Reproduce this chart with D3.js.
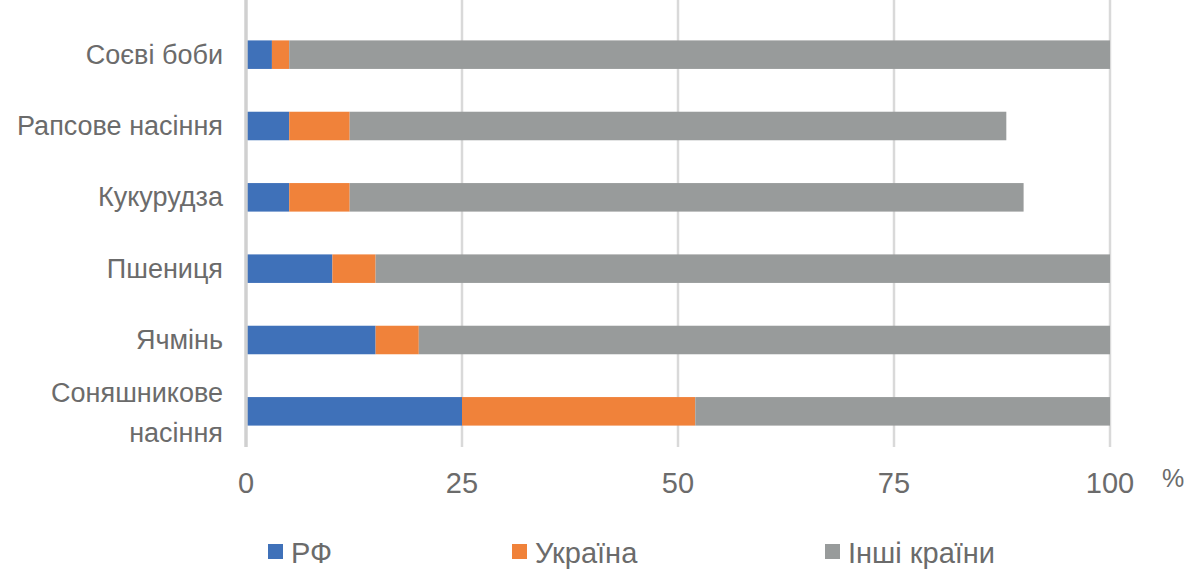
<!DOCTYPE html>
<html>
<head>
  <meta charset="UTF-8">
  <title>Експорт</title>
  <script src="https://cdn.jsdelivr.net/npm/d3@7"></script>
  <style>
    body { margin: 0; background: #fff; }
    text { fill: #6b6b6b; font-family: "Liberation Sans", Arial, sans-serif; }
  </style>
</head>
<body>
<div id="chart"></div>
<script>
// categories, bottom to top as in the picture
var categories = ["Соняшникове насіння", "Ячмінь", "Пшениця", "Кукурудза", "Рапсове насіння", "Соєві боби"];
var seriesNames = ["РФ", "Україна", "Інші країни"];
var rf      = [25, 15, 10, 5, 5, 3];
var ukraine = [27, 5, 5, 7, 7, 2];
var others  = [48, 80, 85, 78, 76, 95];
var tickValues = [0, 25, 50, 75, 100];
var colors = ["#3f71b9", "#f0823a", "#989b9b"];

var W = 1189, H = 569;
var svg = d3.select("#chart").append("svg").attr("width", W).attr("height", H);

var x = d3.scaleLinear().domain([0, 100]).range([246, 1110]);
var y = d3.scaleBand().domain(categories.slice().reverse()).range([19, 447]).paddingInner(0.6).paddingOuter(0.3);

var rows = categories.map(function(c, i) {
  return {cat: c, "РФ": rf[i], "Україна": ukraine[i], "Інші країни": others[i]};
});
var stack = d3.stack().keys(seriesNames)(rows);

// gridlines
svg.append("g").selectAll("line").data(tickValues.slice(1)).join("line")
  .attr("x1", function(d) { return x(d); }).attr("x2", function(d) { return x(d); })
  .attr("y1", 0).attr("y2", 447)
  .attr("stroke", "#d9d9d9").attr("stroke-width", 2.5);

// bars
svg.append("g").selectAll("g").data(stack).join("g")
  .attr("fill", function(d, i) { return colors[i]; })
  .selectAll("rect").data(function(d) { return d; }).join("rect")
  .attr("x", function(d) { return x(d[0]); })
  .attr("width", function(d) { return x(d[1]) - x(d[0]); })
  .attr("y", function(d) { return y(d.data.cat); })
  .attr("height", y.bandwidth());

// vertical axis line
svg.append("line").attr("x1", x(0)).attr("x2", x(0)).attr("y1", 0).attr("y2", 447)
  .attr("stroke", "#d0d0d0").attr("stroke-width", 3.5);

// x tick labels
svg.append("g").selectAll("text").data(tickValues).join("text")
  .attr("x", function(d) { return x(d); }).attr("y", 493)
  .attr("text-anchor", "middle")
  .style("font-size", "29px")
  .text(function(d) { return d; });

svg.append("text").attr("x", 1173).attr("y", 487).attr("text-anchor", "middle")
  .style("font-size", "25px").text("%");

// category labels
svg.append("g").selectAll("text").data(categories).join("text")
  .attr("text-anchor", "end")
  .style("font-size", "27px")
  .each(function(d) {
    var t = d3.select(this);
    var cy = y(d) + y.bandwidth() / 2;
    if (d === "Соняшникове насіння") {
      t.append("tspan").attr("x", 223).attr("y", cy - 9).text("Соняшникове");
      t.append("tspan").attr("x", 223).attr("y", cy + 31).text("насіння");
    } else {
      t.attr("x", 223).attr("y", cy + 9).text(d);
    }
  });

// legend
var legendX = [268, 512, 825];
var lg = svg.append("g").selectAll("g").data(seriesNames).join("g")
  .attr("transform", function(d, i) { return "translate(" + legendX[i] + ",0)"; });
lg.append("rect").attr("x", 0).attr("y", 544).attr("width", 15).attr("height", 15)
  .attr("fill", function(d, i) { return colors[i]; });
lg.append("text").attr("x", 23).attr("y", 563)
  .style("font-size", "29px")
  .text(function(d) { return d; });
</script>
</body>
</html>
